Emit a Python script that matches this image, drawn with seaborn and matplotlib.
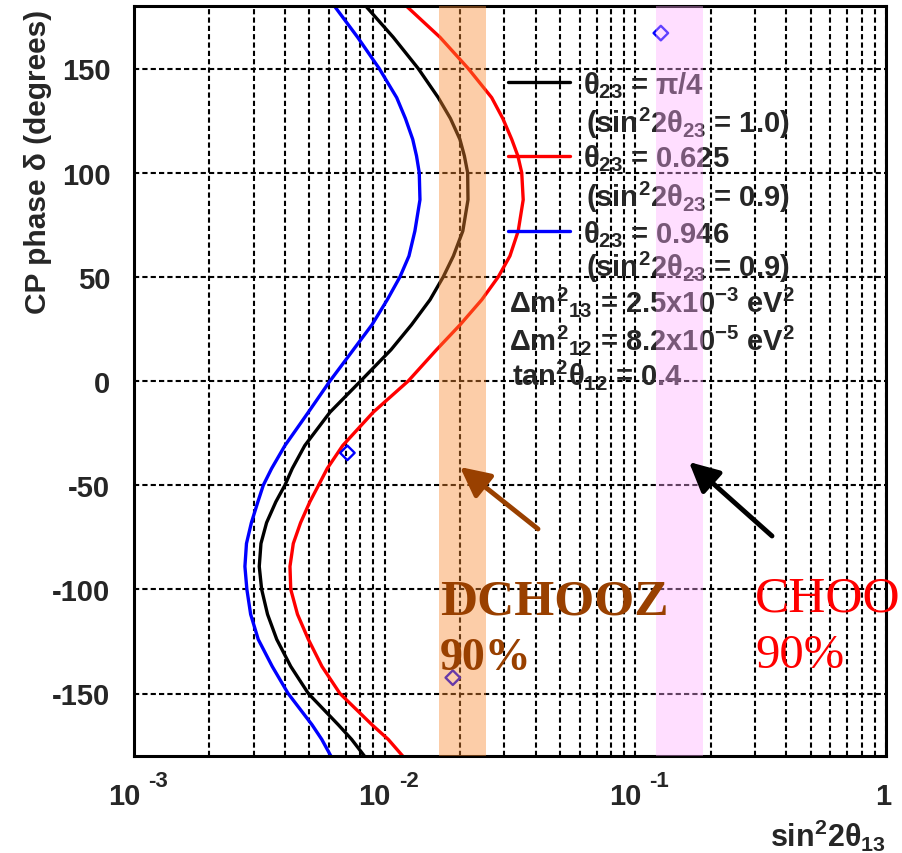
import matplotlib
matplotlib.use("Agg")
import matplotlib.pyplot as plt
import numpy as np
import pandas as pd
import seaborn as sns
from matplotlib.lines import Line2D
from matplotlib.ticker import FixedLocator, LogLocator, MultipleLocator, NullFormatter

# ---------------------------------------------------------------- data
# CP phase delta (degrees) at which each contour was sampled
delta_deg = [-180, -172, -165, -150, -137, -124, -112, -100, -89, -78, -68, -58,
             -50, -42, -31, -15, 0, 15, 27, 39, 50, 60, 72, 87, 100, 108, 116,
             126, 136, 150, 165, 180]

# sin^2(2 theta13) on the contour for each theta23 choice
s2_pi4 = [0.0083, 0.00738, 0.00653, 0.00496, 0.00422, 0.00371, 0.00341, 0.00323,
          0.00316, 0.00321, 0.00338, 0.00368, 0.0040, 0.00428, 0.0048, 0.00605,
          0.00802, 0.0106, 0.0128, 0.01517, 0.01713, 0.0188, 0.0205, 0.0215,
          0.02143, 0.0208, 0.01996, 0.0183, 0.01636, 0.01361, 0.01082, 0.0084]
s2_0625 = [0.0118, 0.01033, 0.0089, 0.00663, 0.00562, 0.00496, 0.00449, 0.00422,
           0.00419, 0.00432, 0.00462, 0.00503, 0.00545, 0.0059, 0.0068, 0.0090,
           0.01242, 0.0161, 0.0200, 0.0244, 0.0284, 0.0316, 0.0341, 0.0357,
           0.03522, 0.0340, 0.03213, 0.0296, 0.02673, 0.02155, 0.01662, 0.0122]
s2_0946 = [0.0061, 0.00561, 0.00513, 0.00412, 0.00356, 0.00313, 0.00292, 0.00282,
           0.00277, 0.00281, 0.00294, 0.00312, 0.00328, 0.00354, 0.0040, 0.00496,
           0.00605, 0.0075, 0.0089, 0.01024, 0.01151, 0.0125, 0.0132, 0.01383,
           0.01374, 0.0134, 0.01294, 0.0121, 0.01117, 0.00951, 0.0078, 0.0063]

curve_names = ["pi/4", "0.625", "0.946"]
curve_colors = ["black", "red", "blue"]

# isolated points
point_s2 = [0.0071, 0.0187, 0.1264]
point_delta = [-34.5, -142.4, 167.0]

# 90% sensitivity bands
dchooz_band = [0.0164, 0.0253]
chooz_band = [0.121, 0.187]

x_ticks = [1e-3, 1e-2, 1e-1, 1.0]
x_tick_base = ["10", "10", "10", "1"]
x_tick_exp = ["-3", "-2", "-1", ""]
y_ticks = [-150, -100, -50, 0, 50, 100, 150]
y_tick_labels = ["-150", "-100", "-50", "0", "50", "100", "150"]

legend_rows = [
    r"$\theta_{23}$ = $\pi$/4",
    r"(sin$^{2}$2$\theta_{23}$ = 1.0)",
    r"$\theta_{23}$ = 0.625",
    r"(sin$^{2}$2$\theta_{23}$ = 0.9)",
    r"$\theta_{23}$ = 0.946",
    r"(sin$^{2}$2$\theta_{23}$ = 0.9)",
    r"$\Delta$m$^{2}$$_{13}$ = 2.5x10$^{-3}$ eV$^{2}$",
    r"$\Delta$m$^{2}$$_{12}$ = 8.2x10$^{-5}$ eV$^{2}$",
    r"tan$^{2}$$\theta_{12}$ = 0.4",
]

# ---------------------------------------------------------------- style
sns.set_style("white")
plt.rcParams["font.family"] = ["Liberation Sans", "DejaVu Sans"]
plt.rcParams["font.weight"] = "bold"
plt.rcParams["axes.unicode_minus"] = False
plt.rcParams["mathtext.fontset"] = "custom"
plt.rcParams["mathtext.rm"] = "Liberation Sans:bold"
plt.rcParams["mathtext.it"] = "Liberation Sans:bold"
plt.rcParams["mathtext.bf"] = "Liberation Sans:bold"
plt.rcParams["mathtext.sf"] = "Liberation Sans:bold"

W, H = 902, 854
PT = 0.72  # points per pixel at 100 dpi
fig = plt.figure(figsize=(W / 100, H / 100), dpi=100)
ax = fig.add_axes([134 / W, 1 - 757 / H, 752 / W, 750 / H])
ax.set_xscale("log")
ax.set_xlim(1e-3, 1.0)
ax.set_ylim(-180, 180)

# ---------------------------------------------------------------- curves
df = pd.DataFrame({
    "delta": delta_deg * 3,
    "s2": s2_pi4 + s2_0625 + s2_0946,
    "theta23": sum([[n] * len(delta_deg) for n in curve_names], []),
})
sns.lineplot(data=df, x="s2", y="delta", hue="theta23", hue_order=curve_names,
             palette=dict(zip(curve_names, curve_colors)), orient="y",
             estimator=None, sort=True, linewidth=2.4, legend=False, ax=ax, zorder=2)

ax.scatter(point_s2, point_delta, marker="D", s=55, facecolors="none",
           edgecolors="blue", linewidths=1.7, zorder=3)

# sensitivity bands sit over everything drawn so far
ax.axvspan(*dchooz_band, color="#f88a30", alpha=0.42, lw=0, zorder=4)
ax.axvspan(*chooz_band, color="#ffaaff", alpha=0.38, lw=0, zorder=4)

# ---------------------------------------------------------------- axes
ax.set_axisbelow(True)
ax.xaxis.set_major_locator(FixedLocator(x_ticks))
ax.set_xticklabels([""] * len(x_ticks))
ax.xaxis.set_minor_locator(LogLocator(base=10, subs=np.arange(2, 10)))
ax.xaxis.set_minor_formatter(NullFormatter())
ax.yaxis.set_major_locator(FixedLocator(y_ticks))
ax.set_yticklabels(y_tick_labels)
ax.yaxis.set_minor_locator(MultipleLocator(10))

dash = (0, (2.5, 1.5))
ax.grid(which="major", axis="both", color="black", linestyle=dash, linewidth=1.5)
ax.grid(which="minor", axis="x", color="black", linestyle=dash, linewidth=1.5)

ax.tick_params(which="both", direction="in", width=1.6, color="black",
               top=False, right=False)
ax.tick_params(which="major", length=11.5)
ax.tick_params(which="minor", length=6.5)
ax.tick_params(axis="y", which="major", labelsize=21, pad=17)
for lab in ax.get_yticklabels():
    lab.set_fontweight("bold")

# decade labels: "10" with a raised exponent to its right
for xt, base, ex in zip(x_ticks, x_tick_base, x_tick_exp):
    if ex:
        ax.annotate(base, xy=(xt, 0), xycoords=("data", "axes fraction"),
                    xytext=(6 * PT, -26 * PT), textcoords="offset points",
                    ha="right", va="top", fontsize=21, fontweight="bold")
        ax.annotate(ex, xy=(xt, 0), xycoords=("data", "axes fraction"),
                    xytext=(14 * PT, -14 * PT), textcoords="offset points",
                    ha="left", va="top", fontsize=16, fontweight="bold")
    else:
        ax.annotate(base, xy=(xt, 0), xycoords=("data", "axes fraction"),
                    xytext=(-3 * PT, -26 * PT), textcoords="offset points",
                    ha="center", va="top", fontsize=21, fontweight="bold")

for sp in ax.spines.values():
    sp.set_visible(True)
    sp.set_linewidth(2.2)
    sp.set_color("black")
    sp.set_zorder(3)

ax.set_ylabel("CP phase δ (degrees)", fontsize=21.5, fontweight="bold", loc="top")
ax.yaxis.set_label_coords(-0.109, 0.996)
ax.set_xlabel(r"sin$^{2}$2$\theta_{13}$", fontsize=22, fontweight="bold", loc="right")
ax.xaxis.set_label_coords(1.0, -0.0813)

# ---------------------------------------------------------------- key
def ax_xy(px, py):
    return (px - 134) / 752, (757 - py) / 750

for color, py in zip(curve_colors, [82.7, 157.3, 232.3]):
    x0, y0 = ax_xy(508, py)
    x1, _ = ax_xy(570, py)
    ax.add_line(Line2D([x0, x1], [y0, y0], transform=ax.transAxes,
                       color=color, lw=2.4, zorder=3))

row_x = [583, 586, 583, 586, 583, 586, 509, 509, 512]
row_base = [94, 133, 167, 207, 243, 277, 312, 350, 385]
for txt, px, py in zip(legend_rows, row_x, row_base):
    tx, ty = ax_xy(px, py)
    ax.text(tx, ty, txt, transform=ax.transAxes, fontsize=21, fontweight="bold",
            ha="left", va="baseline", zorder=3)

# ---------------------------------------------------------------- annotations
brown = "#994000"
for col, tail, tip in [(brown, (538, 530), (460, 468)),
                       ("black", (772, 537), (689, 463))]:
    ax.annotate("", xy=ax_xy(*tip), xytext=ax_xy(*tail),
                xycoords="axes fraction", textcoords="axes fraction",
                arrowprops=dict(arrowstyle="-|>,head_length=1.0,head_width=0.5",
                                color=col, lw=3.5, mutation_scale=18,
                                shrinkA=0, shrinkB=0),
                zorder=6)

serif = ["Liberation Serif", "DejaVu Serif"]
ax.text(*ax_xy(440, 615), "DCHOOZ", transform=ax.transAxes, family=serif,
        fontsize=37, fontweight="bold", color=brown, va="baseline", zorder=6)
ax.text(*ax_xy(440, 670), "90%", transform=ax.transAxes, family=serif,
        fontsize=33, fontweight="bold", color=brown, va="baseline", zorder=6)
ax.text(*ax_xy(755, 612), "CHOO", transform=ax.transAxes, family=serif,
        fontsize=37, fontweight="normal", color="red", va="baseline", zorder=6)
ax.text(*ax_xy(755, 668), "90%", transform=ax.transAxes, family=serif,
        fontsize=35, fontweight="normal", color="red", va="baseline", zorder=6)

fig.savefig("out.png", dpi=100)
